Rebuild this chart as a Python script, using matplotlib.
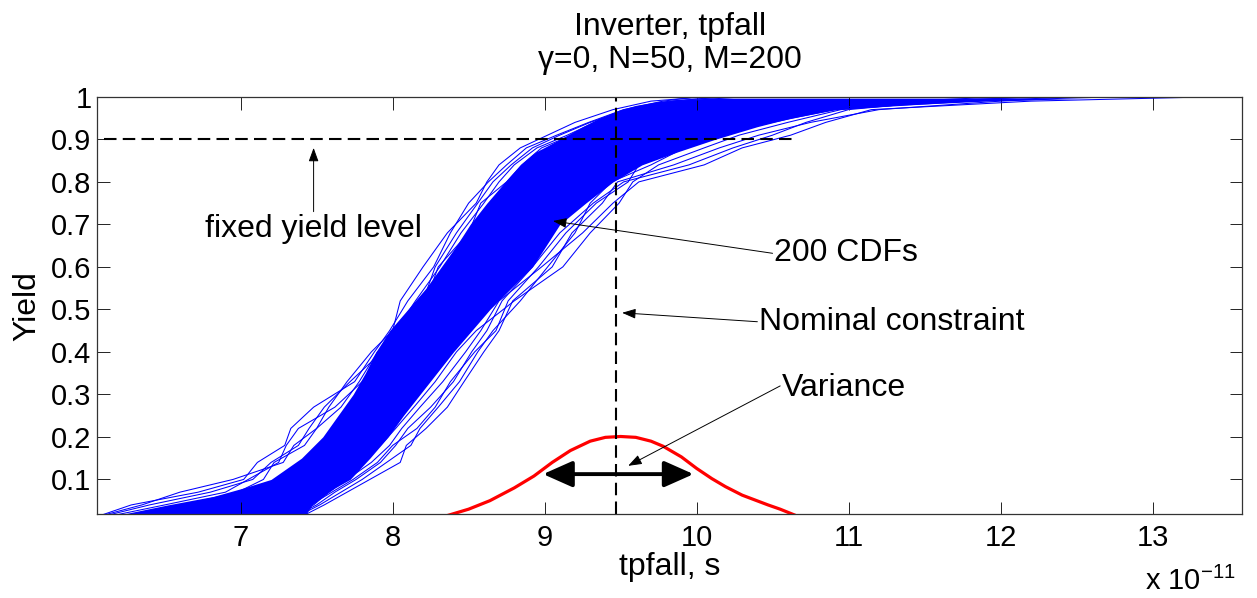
import matplotlib
matplotlib.use("Agg")
import matplotlib.pyplot as plt

plt.rcParams['font.family'] = ['Liberation Sans', 'DejaVu Sans']
plt.rcParams['mathtext.fontset'] = 'custom'
plt.rcParams['mathtext.rm'] = 'Liberation Sans'

# tpfall in units of 1e-11 s
# dense part of the 200 CDFs (left / right edge of the solid band)
band_yield = [0.018, 0.04, 0.06, 0.08, 0.10, 0.15, 0.20, 0.25, 0.30, 0.35, 0.40, 0.45, 0.50, 0.55,
              0.60, 0.65, 0.70, 0.75, 0.80, 0.84, 0.87, 0.90, 0.93, 0.95, 0.97, 0.98, 0.99, 0.997]
band_lo = [6.22, 6.52, 6.82, 7.02, 7.20, 7.40, 7.54, 7.64, 7.74, 7.82, 7.89, 7.98, 8.10, 8.22,
           8.32, 8.42, 8.51, 8.62, 8.74, 8.84, 8.94, 9.10, 9.25, 9.36, 9.50, 9.60, 9.76, 10.1]
band_hi = [7.43, 7.47, 7.54, 7.62, 7.72, 7.85, 7.97, 8.07, 8.18, 8.29, 8.40, 8.52, 8.64, 8.78,
           8.92, 9.01, 9.10, 9.27, 9.45, 9.64, 9.87, 10.12, 10.40, 10.62, 10.92, 11.3, 11.9, 12.6]

# single CDFs that stick out of the band
cdf_yield = [0.018, 0.04, 0.07, 0.10, 0.14, 0.18, 0.22, 0.27, 0.33, 0.40, 0.45, 0.52,
             0.60, 0.68, 0.75, 0.80, 0.84, 0.88, 0.91, 0.94, 0.97, 0.99, 1.0]
cdf_left1 = [6.10, 6.28, 6.72, 7.02, 7.11, 7.29, 7.33, 7.48, 7.75, 7.88, 7.98, 8.10,
             8.27, 8.38, 8.50, 8.63, 8.75, 8.88, 9.08, 9.29, 9.52, 9.78, 10.0]
cdf_left2 = [6.15, 6.40, 6.80, 7.08, 7.20, 7.38, 7.45, 7.55, 7.72, 7.93, 8.02, 8.15,
             8.31, 8.45, 8.60, 8.70, 8.80, 8.95, 9.15, 9.33, 9.58, 9.85, 10.15]
cdf_left3 = [6.20, 6.50, 6.90, 7.05, 7.25, 7.30, 7.38, 7.62, 7.80, 7.95, 8.05, 8.20,
             8.28, 8.42, 8.56, 8.66, 8.78, 8.92, 9.10, 9.30, 9.55, 9.82, 10.2]
cdf_left4 = [6.12, 6.35, 6.60, 6.95, 7.28, 7.35, 7.50, 7.58, 7.70, 7.86, 8.00, 8.05,
             8.20, 8.36, 8.55, 8.62, 8.70, 8.84, 9.02, 9.20, 9.45, 9.70, 10.05]
cdf_left5 = [6.30, 6.62, 6.98, 7.15, 7.22, 7.42, 7.50, 7.66, 7.78, 7.90, 8.08, 8.22,
             8.30, 8.50, 8.58, 8.75, 8.85, 8.98, 9.18, 9.40, 9.62, 9.90, 10.3]
cdf_right1 = [7.43, 7.55, 7.70, 7.85, 8.05, 8.09, 8.22, 8.36, 8.47, 8.60, 8.70, 8.79,
              9.05, 9.18, 9.38, 9.48, 9.85, 10.15, 10.41, 10.75, 11.2, 12.0, 12.6]
cdf_right2 = [7.38, 7.50, 7.62, 7.76, 7.92, 8.02, 8.10, 8.25, 8.40, 8.52, 8.62, 8.72,
              8.92, 9.10, 9.32, 9.52, 9.95, 10.24, 10.50, 10.72, 11.0, 11.6, 12.2]
cdf_right3 = [7.35, 7.48, 7.58, 7.70, 7.86, 7.98, 8.06, 8.18, 8.33, 8.48, 8.58, 8.70,
              8.98, 9.25, 9.45, 9.62, 10.05, 10.30, 10.62, 10.85, 11.15, 12.2, 13.37]
cdf_right4 = [7.30, 7.45, 7.55, 7.68, 7.80, 7.92, 8.02, 8.14, 8.28, 8.42, 8.55, 8.80,
              9.12, 9.30, 9.49, 9.58, 9.75, 10.05, 10.28, 10.60, 10.95, 11.5, 12.3]
cdf_right5 = [7.40, 7.52, 7.66, 7.80, 7.96, 8.12, 8.18, 8.30, 8.44, 8.56, 8.66, 8.84,
              9.02, 9.20, 9.30, 9.44, 9.70, 9.92, 10.20, 10.45, 10.80, 11.4, 12.0]
cdf_right6 = [7.36, 7.46, 7.60, 7.74, 7.90, 8.00, 8.16, 8.28, 8.38, 8.54, 8.68, 8.76,
              8.96, 9.14, 9.34, 9.55, 9.62, 9.88, 10.12, 10.50, 10.90, 11.8, 12.5]

# red variance bump
var_x = [8.36, 8.5, 8.64, 8.8, 8.93, 9.05, 9.17, 9.3, 9.4, 9.5, 9.6, 9.7, 9.78, 9.9,
         10.0, 10.1, 10.19, 10.3, 10.47, 10.55, 10.64]
var_y = [0.015, 0.03, 0.05, 0.08, 0.108, 0.14, 0.168, 0.19, 0.199, 0.201, 0.199, 0.19, 0.178,
         0.153, 0.126, 0.102, 0.083, 0.063, 0.04, 0.03, 0.017]

nominal_tp = 9.47
fixed_yield = 0.9
fixed_yield_end = 10.65
spread_lo, spread_hi, spread_y = 8.99, 9.98, 0.1125

xticks = [7, 8, 9, 10, 11, 12, 13]
yticks = [0.1, 0.2, 0.3, 0.4, 0.5, 0.6, 0.7, 0.8, 0.9, 1]
ytick_labels = ['0.1', '0.2', '0.3', '0.4', '0.5', '0.6', '0.7', '0.8', '0.9', '1']

fig = plt.figure(figsize=(12.57, 5.98), dpi=100)
ax = fig.add_axes([0.0772, 0.140, 0.911, 0.698])

ax.fill_betweenx(band_yield, band_lo, band_hi, color='b', lw=0)
outliers = [cdf_left1, cdf_left2, cdf_left3, cdf_left4, cdf_left5,
            cdf_right1, cdf_right2, cdf_right3, cdf_right4, cdf_right5, cdf_right6]
for cdf in outliers:
    ax.plot(cdf, cdf_yield, color='b', lw=0.75)

ax.plot(var_x, var_y, color='r', lw=2.3)

ax.plot([6.10, fixed_yield_end], [fixed_yield, fixed_yield], color='k', lw=1.5, ls=(0, (6, 3)))
ax.plot([nominal_tp, nominal_tp], [0.018, 1.0], color='k', lw=1.5, ls=(0, (6, 3)))

ax.annotate('', xy=(spread_lo, spread_y), xytext=(spread_hi, spread_y),
            arrowprops=dict(arrowstyle='<|-|>,head_length=0.9,head_width=0.4',
                            mutation_scale=20, color='k', lw=2.8, shrinkA=0, shrinkB=0))

thin = dict(arrowstyle='-|>,head_length=0.55,head_width=0.2', mutation_scale=15,
            color='k', lw=0.7, shrinkA=0, shrinkB=0)
fs = 23
ax.annotate('', xy=(7.48, 0.88), xytext=(7.48, 0.73), arrowprops=thin)
ax.text(7.48, 0.69, 'fixed yield level', fontsize=fs, ha='center', va='center')
ax.annotate('', xy=(9.055, 0.708), xytext=(10.50, 0.632), arrowprops=thin)
ax.text(10.51, 0.632, '200 CDFs', fontsize=fs, ha='left', va='center')
ax.annotate('', xy=(9.51, 0.492), xytext=(10.40, 0.471), arrowprops=thin)
ax.text(10.41, 0.471, 'Nominal constraint', fontsize=fs, ha='left', va='center')
ax.annotate('', xy=(9.55, 0.132), xytext=(10.55, 0.32), arrowprops=thin)
ax.text(10.56, 0.316, 'Variance', fontsize=fs, ha='left', va='center')

ax.set_xlim(6.055, 13.59)
ax.set_ylim(0.018, 1.0)
ax.set_xticks(xticks)
ax.set_xticklabels([str(t) for t in xticks])
ax.set_yticks(yticks)
ax.set_yticklabels(ytick_labels)
ax.tick_params(direction='in', length=9, width=0.6, top=True, right=True,
               labelsize=21, colors='k')
ax.tick_params(axis='x', pad=7)
ax.tick_params(axis='y', pad=4)
for s in ax.spines.values():
    s.set_linewidth(0.9)
    s.set_color('#333333')

ax.set_xlabel('tpfall, s', fontsize=23, labelpad=0)
ax.set_ylabel('Yield', fontsize=23, labelpad=6)
ax.set_title('Inverter, tpfall\nγ=0, N=50, M=200', fontsize=23, pad=21, linespacing=1.1)
fig.text(1145 / 1257, 8 / 598, r'x 10$^{-11}$', fontsize=21, ha='left', va='baseline')

fig.savefig('out.png', dpi=100)
